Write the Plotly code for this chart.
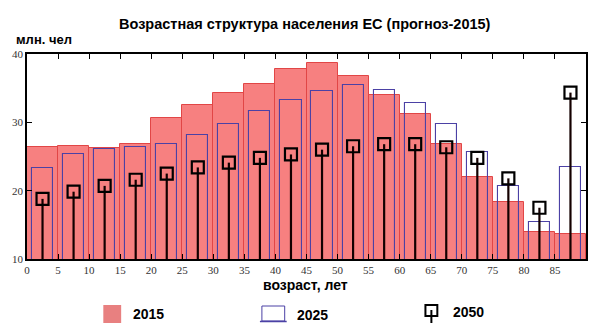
import plotly.graph_objects as go

# Age groups (start of 5-year interval)
age_start = [0, 5, 10, 15, 20, 25, 30, 35, 40, 45, 50, 55, 60, 65, 70, 75, 80, 85]
pop_2015 = [26.4, 26.5, 26.2, 26.8, 30.6, 32.6, 34.3, 35.6, 37.8, 38.7, 36.8, 34.0, 31.2, 26.8, 22.0, 18.4, 14.0, 13.7]
pop_2025 = [23.3, 25.3, 26.1, 26.35, 26.8, 28.15, 29.8, 31.6, 33.3, 34.6, 35.4, 34.8, 32.8, 29.8, 25.6, 20.7, 15.4, 23.5]
pop_2050 = [18.8, 19.85, 20.7, 21.6, 22.5, 23.4, 24.1, 24.8, 25.3, 26.0, 26.5, 26.8, 26.8, 26.35, 24.8, 21.8, 17.5, 34.35]
x_ticks = [0, 5, 10, 15, 20, 25, 30, 35, 40, 45, 50, 55, 60, 65, 70, 75, 80, 85]
y_ticks = [10, 20, 30, 40]

centers = [a + 2.5 for a in age_start]

RED_FILL = "rgb(247,128,128)"
RED_EDGE = "rgb(225,70,70)"
BLUE = "rgb(75,65,165)"
SANS = "Liberation Sans"
SERIF = "Liberation Serif"

fig = go.Figure()
fig.add_trace(go.Bar(x=centers, y=pop_2015, width=5, name="2015",
                     marker=dict(color=RED_FILL, line=dict(color=RED_EDGE, width=1)),
                     showlegend=False))
fig.add_trace(go.Bar(x=centers, y=pop_2025, width=3.4, name="2025",
                     marker=dict(color="rgba(0,0,0,0)", line=dict(color=BLUE, width=1.1)),
                     showlegend=False))

# stems for 2050
sx, sy = [], []
for c, v in zip(centers, pop_2050):
    sx += [c, c, None]
    sy += [0, v, None]
fig.add_trace(go.Scatter(x=sx, y=sy, mode="lines",
                         line=dict(color="rgb(20,0,0)", width=2.2), showlegend=False,
                         hoverinfo="skip"))
fig.add_trace(go.Scatter(x=centers, y=pop_2050, mode="markers", name="2050",
                         marker=dict(symbol="square-open", size=12, color="black",
                                     line=dict(color="black", width=2.2)),
                         showlegend=False))

W, H = 600, 335
ML, MR, MT, MB = 24, 12, 54, 76
PW, PH = W - ML - MR, H - MT - MB

def px(x):
    return (x - ML) / PW

def py(y):
    return 1 - (y - MT) / PH

shapes = []
annotations = []
# legend 2015
shapes.append(dict(type="rect", xref="paper", yref="paper",
                   x0=px(101), x1=px(119), y0=py(323), y1=py(305),
                   fillcolor="rgb(232,128,128)", line=dict(width=0)))
annotations.append(dict(text="<b>2015</b>", xref="paper", yref="paper", x=px(129), y=py(314),
                        xanchor="left", yanchor="middle", showarrow=False,
                        font=dict(family=SANS, size=14, color="black")))
# legend 2025
shapes.append(dict(type="rect", xref="paper", yref="paper",
                   x0=px(261), x1=px(284), y0=py(321), y1=py(306),
                   fillcolor="rgba(0,0,0,0)", line=dict(color=BLUE, width=1)))
shapes.append(dict(type="line", xref="paper", yref="paper",
                   x0=px(259), x1=px(286), y0=py(321.5), y1=py(321.5),
                   line=dict(color=BLUE, width=1.5)))
annotations.append(dict(text="<b>2025</b>", xref="paper", yref="paper", x=px(294), y=py(315),
                        xanchor="left", yanchor="middle", showarrow=False,
                        font=dict(family=SANS, size=14, color="black")))
# legend 2050
shapes.append(dict(type="rect", xref="paper", yref="paper",
                   x0=px(426), x1=px(438), y0=py(316), y1=py(305),
                   fillcolor="rgba(0,0,0,0)", line=dict(color="black", width=2)))
shapes.append(dict(type="line", xref="paper", yref="paper",
                   x0=px(432), x1=px(432), y0=py(323), y1=py(310),
                   line=dict(color="black", width=2)))
annotations.append(dict(text="<b>2050</b>", xref="paper", yref="paper", x=px(452), y=py(312),
                        xanchor="left", yanchor="middle", showarrow=False,
                        font=dict(family=SANS, size=14, color="black")))

# title & axis labels
annotations.append(dict(text="<b>Возрастная структура населения ЕС (прогноз-2015)</b>",
                        xref="paper", yref="paper", x=px(304), y=py(23.5),
                        xanchor="center", yanchor="middle", showarrow=False,
                        font=dict(family=SANS, size=14.5, color="black")))
annotations.append(dict(text="<b>млн. чел</b>", xref="paper", yref="paper", x=px(11), y=py(39.5),
                        xanchor="left", yanchor="middle", showarrow=False,
                        font=dict(family=SANS, size=13, color="black")))
annotations.append(dict(text="<b>возраст, лет</b>", xref="paper", yref="paper", x=px(305), y=py(285),
                        xanchor="center", yanchor="middle", showarrow=False,
                        font=dict(family=SANS, size=14, color="black")))

fig.update_layout(
    width=W, height=H,
    margin=dict(l=ML, r=MR, t=MT, b=MB, pad=0),
    paper_bgcolor="white", plot_bgcolor="white",
    barmode="overlay", bargap=0,
    showlegend=False,
    shapes=shapes, annotations=annotations,
)
fig.update_xaxes(range=[0, 90], tickvals=x_ticks, ticks="inside", ticklen=5,
                 tickcolor="black", showline=True, linecolor="black", linewidth=1.5,
                 mirror="ticks", showgrid=False, zeroline=False,
                 tickfont=dict(family=SERIF, size=11, color="#333"))
fig.update_yaxes(range=[10, 40], tickvals=y_ticks, ticks="inside", ticklen=5,
                 tickcolor="black", showline=True, linecolor="black", linewidth=1.5,
                 mirror="ticks", showgrid=False, zeroline=False,
                 tickfont=dict(family=SERIF, size=11, color="#333"))

fig.write_html("out.html")
